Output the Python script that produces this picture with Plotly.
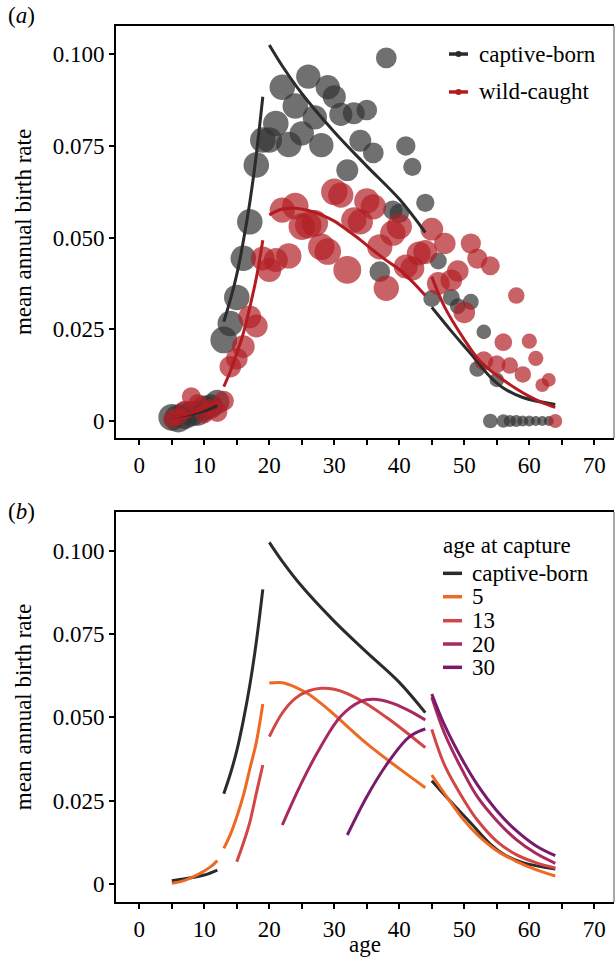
import plotly.graph_objects as go

FONT = "Times New Roman"
FS = 23

# ---------------- data: panel (a) observed mean annual birth rates ----------------
cb_age = [5, 6, 7, 8, 9, 10, 11, 12, 13, 14, 15, 16, 17, 18, 19, 20, 21, 22, 23, 24, 25,
          26, 27, 28, 29, 30, 31, 32, 33, 34, 35, 36, 37, 38, 39, 40, 41, 42, 44, 45, 46,
          48, 49, 51, 52, 53, 54, 55, 56, 57, 58, 59, 60, 61, 62, 63]
cb_rate = [0.0010, 0.0007, 0.0015, 0.0020, 0.0022, 0.0035, 0.0040, 0.0052, 0.0221, 0.0266,
           0.0337, 0.0444, 0.0543, 0.0698, 0.0766, 0.0766, 0.0811, 0.0910, 0.0754, 0.0859,
           0.0784, 0.0939, 0.0828, 0.0752, 0.0910, 0.0884, 0.0836, 0.0684, 0.0839, 0.0764,
           0.0848, 0.0731, 0.0407, 0.0990, 0.0575, 0.0566, 0.0750, 0.0693, 0.0595, 0.0334,
           0.0436, 0.0337, 0.0313, 0.0325, 0.0142, 0.0243, 0.0, 0.0112, 0.0, 0.0, 0.0, 0.0,
           0.0, 0.0, 0.0, 0.0]
cb_n = [97, 106, 97, 88, 88, 88, 80, 80, 97, 88, 88, 88, 88, 88, 88, 88, 88, 88, 88, 88,
        80, 80, 80, 80, 80, 72, 72, 65, 65, 65, 58, 58, 58, 58, 51, 51, 51, 45, 45, 39, 39,
        39, 34, 34, 34, 29, 29, 29, 24, 20, 20, 16, 16, 13, 13, 13]

wc_age = list(range(5, 65))
wc_rate = [0.0005, 0.0012, 0.0030, 0.0066, 0.0048, 0.0020, 0.0035, 0.0025, 0.0055, 0.0148,
           0.0170, 0.0203, 0.0284, 0.0259, 0.0443, 0.0412, 0.0439, 0.0575, 0.0450, 0.0586,
           0.0530, 0.0534, 0.0539, 0.0475, 0.0462, 0.0625, 0.0616, 0.0412, 0.0548, 0.0543,
           0.0600, 0.0584, 0.0475, 0.0362, 0.0512, 0.0530, 0.0421, 0.0416, 0.0457, 0.0461,
           0.0523, 0.0375, 0.0484, 0.0384, 0.0409, 0.0296, 0.0484, 0.0443, 0.0164, 0.0423,
           0.0155, 0.0215, 0.0151, 0.0342, 0.0127, 0.0218, 0.0171, 0.0098, 0.0112, 0.0]
wc_n = [39, 39, 45, 45, 45, 45, 45, 51, 51, 58, 58, 65, 65, 65, 72, 72, 72, 80, 80, 88,
        88, 88, 88, 88, 88, 88, 80, 97, 80, 80, 80, 80, 80, 80, 80, 80, 72, 72, 72, 72,
        65, 65, 58, 58, 58, 58, 51, 51, 45, 45, 39, 39, 34, 34, 34, 29, 29, 24, 24, 24]

# ---------------- data: model fits (segments separated by None) ----------------
fit_cb_age = [5, 8, 10, 12, None,
              13, 14, 15, 16, 17, 18, 19, None,
              20, 22, 25, 30, 35, 40, 44, None,
              45, 48, 51, 54, 56, 59, 64]
fit_cb = [0.0010, 0.0019, 0.0027, 0.0042, None,
          0.0271, 0.0330, 0.0400, 0.0490, 0.0596, 0.0726, 0.0884, None,
          0.1025, 0.0968, 0.0893, 0.0788, 0.0695, 0.0605, 0.0514, None,
          0.0310, 0.0245, 0.0183, 0.0120, 0.0090, 0.0064, 0.0045]

fit_wc_age = [5, 8, 10, 12, None,
              13, 14, 15, 16, 17, 18, 19, None,
              20, 22, 24, 26, 28, 30, 32, 34, 36, 38, 40, 42, 44, None,
              45, 47, 50, 52, 54, 56, 58, 60, 62, 64]
fit_wc = [0.0010, 0.0022, 0.0035, 0.0058, None,
          0.0094, 0.0135, 0.0185, 0.0239, 0.0310, 0.0390, 0.0493, None,
          0.0562, 0.0578, 0.0580, 0.0574, 0.0562, 0.0545, 0.0520, 0.0494, 0.0465, 0.0438,
          0.0413, 0.0380, 0.0342, None,
          0.0393, 0.0310, 0.0222, 0.0172, 0.0138, 0.0112, 0.0088, 0.0067, 0.0050, 0.0037]

# panel (b): predictions by age at capture
cap5_age = [5, 7, 9, 11, 12, None,
            13, 14, 15, 16, 17, 18, 19, None,
            20, 22, 24, 26, 28, 30, 35, 40, 44, None,
            45, 47, 50, 52, 55, 58, 61, 64]
cap5 = [0.0002, 0.0011, 0.0028, 0.0052, 0.0070, None,
        0.0107, 0.0148, 0.0202, 0.0265, 0.0345, 0.0425, 0.0540, None,
        0.0603, 0.0604, 0.0591, 0.0570, 0.0541, 0.0508, 0.0421, 0.0346, 0.0289, None,
        0.0327, 0.0270, 0.0190, 0.0148, 0.0100, 0.0068, 0.0043, 0.0024]

cap13_age = [15, 16, 17, 18, 19, None,
             20, 22, 24, 26, 28, 30, 32, 35, 38, 41, 44, None,
             45, 47, 50, 52, 55, 58, 61, 64]
cap13 = [0.0067, 0.0122, 0.0185, 0.0272, 0.0357, None,
         0.0442, 0.0513, 0.0557, 0.0579, 0.0587, 0.0584, 0.0571, 0.0540, 0.0500, 0.0456,
         0.0409, None,
         0.0464, 0.0355, 0.0250, 0.0192, 0.0128, 0.0088, 0.0064, 0.0048]

cap20_age = [22, 25, 28, 31, 34, 36, 39, 42, 44, None,
             45, 47, 50, 52, 55, 58, 61, 64]
cap20 = [0.0177, 0.0305, 0.0415, 0.0503, 0.0547, 0.0554, 0.0542, 0.0515, 0.0492, None,
         0.0560, 0.0450, 0.0330, 0.0262, 0.0190, 0.0133, 0.0092, 0.0062]

cap30_age = [32, 35, 38, 41, 42, 43, 44, None,
             45, 47, 50, 52, 55, 58, 61, 64]
cap30 = [0.0147, 0.0262, 0.0357, 0.0432, 0.0448, 0.0458, 0.0465, None,
         0.0570, 0.0475, 0.0362, 0.0298, 0.0220, 0.0160, 0.0115, 0.0085]

x_ticks = list(range(0, 75, 5))
x_labels = [str(v) if v % 10 == 0 else "" for v in x_ticks]
y_ticks = [0, 0.025, 0.05, 0.075, 0.1]
y_labels = ["0", "0.025", "0.050", "0.075", "0.100"]

C_CB = "#2b2b2b"
C_WC = "#b31b21"
C_PT_CB = "#333333"
C_PT_WC = "#b22025"
C_5 = "#ee6a23"
C_13 = "#d24645"
C_20 = "#a8295f"
C_30 = "#781b6c"

fig = go.Figure()

# ---- panel (a) observed points ----
fig.add_trace(go.Scatter(x=cb_age, y=cb_rate, mode="markers", xaxis="x", yaxis="y",
                         marker=dict(size=cb_n, sizemode="area", sizeref=0.27,
                                     color=C_PT_CB, opacity=0.7, line=dict(width=0)),
                         name="captive-born", showlegend=False))
fig.add_trace(go.Scatter(x=wc_age, y=wc_rate, mode="markers", xaxis="x", yaxis="y",
                         marker=dict(size=wc_n, sizemode="area", sizeref=0.25,
                                     color=C_PT_WC, opacity=0.7, line=dict(width=0)),
                         name="wild-caught", showlegend=False))
# ---- panel (a) fits ----
for xs, ys, col in [(fit_cb_age, fit_cb, C_CB), (fit_wc_age, fit_wc, C_WC)]:
    fig.add_trace(go.Scatter(x=xs, y=ys, mode="lines", xaxis="x", yaxis="y",
                             line=dict(color=col, width=3, shape="spline"),
                             connectgaps=False, showlegend=False))
# ---- panel (b) fits ----
for xs, ys, col in [(fit_cb_age, fit_cb, C_CB), (cap5_age, cap5, C_5),
                    (cap13_age, cap13, C_13), (cap20_age, cap20, C_20),
                    (cap30_age, cap30, C_30)]:
    fig.add_trace(go.Scatter(x=xs, y=ys, mode="lines", xaxis="x2", yaxis="y2",
                             line=dict(color=col, width=3, shape="spline"),
                             connectgaps=False, showlegend=False))

axis_common = dict(showgrid=False, zeroline=False, showline=True, linecolor="black",
                   linewidth=2, ticks="outside", ticklen=5, tickwidth=2, tickcolor="black",
                   tickfont=dict(family=FONT, size=FS, color="black"))
title_font = dict(family=FONT, size=FS, color="black")

xr = [-3.585, 73.03]
fig.update_layout(
    width=616, height=957,
    margin=dict(l=116, r=2, t=26, b=55, autoexpand=False),
    paper_bgcolor="white", plot_bgcolor="white",
    showlegend=False,
    font=dict(family=FONT, size=FS, color="black"),
    xaxis=dict(domain=[0, 1], range=xr, anchor="y", tickmode="array", tickvals=x_ticks,
               ticktext=x_labels, mirror=True, **axis_common),
    yaxis=dict(domain=[0.5297, 1], range=[-0.00463, 0.1077], anchor="x", tickmode="array",
               tickvals=y_ticks, ticktext=y_labels,
               title=dict(text="mean annual birth rate", font=title_font, standoff=15),
               **axis_common),
    xaxis2=dict(domain=[0, 1], range=xr, anchor="y2", tickmode="array", tickvals=x_ticks,
                ticktext=x_labels, mirror=True,
                title=dict(text="age", font=title_font, standoff=3), **axis_common),
    yaxis2=dict(domain=[0, 0.4452], range=[-0.0054, 0.1116], anchor="x2", tickmode="array",
                tickvals=y_ticks, ticktext=y_labels,
                title=dict(text="mean annual birth rate", font=title_font, standoff=15),
                **axis_common),
)

shapes = []
for xd, yd in [("x domain", "y domain"), ("x2 domain", "y2 domain")]:
    shapes.append(dict(type="line", xref=xd, yref=yd, x0=1, x1=1, y0=0, y1=1,
                       line=dict(color="#8c8c8c", width=1.5)))

annotations = [
    dict(text="(<i>a</i>)", xref="paper", yref="paper", x=-0.221, y=1.0125,
         xanchor="left", yanchor="middle", showarrow=False, font=title_font),
    dict(text="(<i>b</i>)", xref="paper", yref="paper", x=-0.221, y=0.4463,
         xanchor="left", yanchor="middle", showarrow=False, font=title_font),
]

# legend (a)
leg_a = [("captive-born", C_CB, 0.9680), ("wild-caught", C_WC, 0.9247)]
for label, col, yy in leg_a:
    shapes.append(dict(type="line", xref="paper", yref="paper", x0=0.6687, x1=0.7068,
                       y0=yy, y1=yy, line=dict(color=col, width=3.5)))
    shapes.append(dict(type="circle", xref="paper", yref="paper", xsizemode="pixel",
                       ysizemode="pixel", xanchor=0.6878, yanchor=yy, x0=-3, x1=3, y0=-3, y1=3,
                       fillcolor=col, line=dict(width=0)))
    annotations.append(dict(text=label, xref="paper", yref="paper", x=0.7249, y=yy,
                            xanchor="left", yanchor="middle", showarrow=False, font=title_font))

# legend (b)
annotations.append(dict(text="age at capture", xref="paper", yref="paper", x=0.6526, y=0.4075,
                        xanchor="left", yanchor="middle", showarrow=False, font=title_font))
leg_b = [("captive-born", C_CB, 0.3752), ("5", C_5, 0.3485), ("13", C_13, 0.3211),
         ("20", C_20, 0.2945), ("30", C_30, 0.2679)]
for label, col, yy in leg_b:
    shapes.append(dict(type="line", xref="paper", yref="paper", x0=0.6566, x1=0.6948,
                       y0=yy, y1=yy, line=dict(color=col, width=3.5)))
    annotations.append(dict(text=label, xref="paper", yref="paper", x=0.7108, y=yy,
                            xanchor="left", yanchor="middle", showarrow=False, font=title_font))

fig.update_layout(shapes=shapes, annotations=annotations)
fig.write_html("out.html")
